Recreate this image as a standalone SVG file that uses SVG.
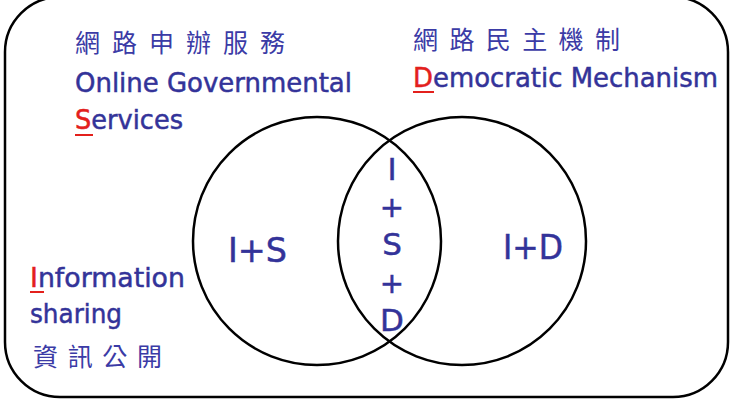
<svg xmlns="http://www.w3.org/2000/svg" width="737" height="412" viewBox="0 0 737 412">
  <style>
    .line { fill: none; stroke: #000; stroke-width: 2.5; }
    .lbl { font-family: "DejaVu Sans", "Liberation Sans", sans-serif; fill: #333399; stroke: #333399; stroke-width: 0.5; }
    .zh { font-family: "Noto Sans CJK TC", "Noto Sans CJK SC", sans-serif; fill: #3b3ba6; font-size: 25px; }
    .key { fill: #e3201c; stroke: #e3201c; }
    .ul { stroke: #e3201c; stroke-width: 2; }
    .mid { text-anchor: middle; }
  </style>

  <!-- outer frame -->
  <g id="frame">
    <rect class="line" x="5" y="-3" width="723" height="400" rx="55" ry="55"/>
  </g>

  <!-- Venn circles -->
  <g id="circle-services">
    <circle class="line" cx="317" cy="241" r="124"/>
    <text class="lbl" x="228" y="262" font-size="34" textLength="59" lengthAdjust="spacingAndGlyphs">I+S</text>
  </g>
  <g id="circle-democratic">
    <circle class="line" cx="462" cy="241" r="124"/>
    <text class="lbl" x="503" y="259" font-size="33" textLength="60" lengthAdjust="spacingAndGlyphs">I+D</text>
  </g>
  <g id="overlap">
    <text class="lbl mid" x="392" y="180" font-size="31">I</text>
    <text class="lbl mid" x="392" y="217" font-size="29">+</text>
    <text class="lbl mid" x="392" y="255" font-size="31">S</text>
    <text class="lbl mid" x="392" y="293" font-size="29">+</text>
    <text class="lbl mid" x="392" y="331" font-size="31">D</text>
  </g>

  <!-- labels -->
  <g id="label-services">
    <text class="zh" x="75" y="52" textLength="210">網路申辦服務</text>
    <text class="lbl" x="75" y="92" font-size="27" textLength="277" lengthAdjust="spacingAndGlyphs">Online Governmental</text>
    <text class="lbl" x="75" y="129" font-size="27" textLength="108" lengthAdjust="spacingAndGlyphs"><tspan class="key">S</tspan>ervices</text>
    <line class="ul" x1="75" y1="135" x2="93" y2="135"/>
  </g>
  <g id="label-democratic">
    <text class="zh" x="413" y="49" textLength="207">網路民主機制</text>
    <text class="lbl" x="413" y="87" font-size="27" textLength="305" lengthAdjust="spacingAndGlyphs"><tspan class="key">D</tspan>emocratic Mechanism</text>
    <line class="ul" x1="413" y1="92" x2="434" y2="92"/>
  </g>
  <g id="label-information">
    <text class="lbl" x="30" y="287" font-size="27" textLength="155" lengthAdjust="spacingAndGlyphs"><tspan class="key">I</tspan>nformation</text>
    <line class="ul" x1="30" y1="292" x2="44" y2="292"/>
    <text class="lbl" x="30" y="323" font-size="27" textLength="92" lengthAdjust="spacingAndGlyphs">sharing</text>
    <text class="zh" x="33" y="366" textLength="129">資訊公開</text>
  </g>
</svg>
